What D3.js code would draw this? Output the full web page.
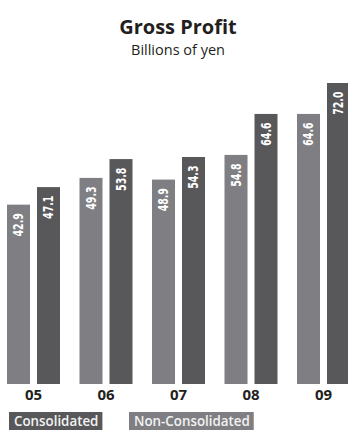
<!DOCTYPE html>
<html>
	<head>
		<title>gross_profit</title>
		<script type="text/javascript" src="https://cdn.jsdelivr.net/npm/d3@7"></script>
		<style>
			body{margin:0;background:#fff;}
		</style>
	</head>
	<body>
		<script type="text/javascript">
			var years=['05','06','07','08','09'];
			var nonConsolidated=[42.9,49.3,48.9,54.8,64.6];
			var consolidated=[47.1,53.8,54.3,64.6,72.0];
			var seriesNames=['Non-Consolidated','Consolidated'];
			var legendNames=['Consolidated','Non-Consolidated'];

			var w=348;
			var h=430;
			var colors={'Non-Consolidated':'#7f7f83','Consolidated':'#58585a'};

			var svg=d3.select('body').append('svg')
					  .attr('width',w)
					  .attr('height',h);

			var xScale=d3.scaleBand()
						 .domain(years)
						 .range([7,350])
						 .paddingInner(0.269);

			var xInner=d3.scaleBand()
						 .domain(seriesNames)
						 .range([0,xScale.bandwidth()])
						 .paddingInner(0.233);

			var yScale=d3.scaleLinear()
						 .domain([0,72])
						 .range([384,83]);

			var rows=years.map(function(y,i){
				return {year:y,values:[
					{name:'Non-Consolidated',value:nonConsolidated[i]},
					{name:'Consolidated',value:consolidated[i]}
				]};
			});

			// title
			svg.append('text')
			   .text('Gross Profit')
			   .attr('x',178)
			   .attr('y',34)
			   .attr('text-anchor','middle')
			   .attr('font-family','Open Sans, sans-serif')
			   .attr('font-weight','bold')
			   .attr('font-size','20px')
			   .attr('fill','#231f20');

			svg.append('text')
			   .text('Billions of yen')
			   .attr('x',178)
			   .attr('y',55)
			   .attr('text-anchor','middle')
			   .attr('font-family','Open Sans, sans-serif')
			   .attr('font-size','14.5px')
			   .attr('fill','#231f20');

			var groups=svg.selectAll('g.year')
						  .data(rows)
						  .enter()
						  .append('g')
						  .attr('class','year')
						  .attr('transform',function(d){
								return 'translate('+xScale(d.year)+',0)';
						  });

			groups.selectAll('rect')
				  .data(function(d){return d.values;})
				  .enter()
				  .append('rect')
				  .attr('x',function(d){return xInner(d.name);})
				  .attr('y',function(d){return yScale(d.value);})
				  .attr('width',xInner.bandwidth())
				  .attr('height',function(d){return yScale(0)-yScale(d.value);})
				  .attr('fill',function(d){return colors[d.name];});

			// value labels, squeezed to look like a condensed face
			groups.selectAll('text.val')
				  .data(function(d){return d.values;})
				  .enter()
				  .append('text')
				  .attr('class','val')
				  .text(function(d){return d.value.toFixed(1);})
				  .attr('transform',function(d){
						var cx=xInner(d.name)+xInner.bandwidth()/2;
						return 'translate('+cx+','+(yScale(d.value)+8.5)+') rotate(-90) scale(0.7,1)';
				  })
				  .attr('dy','0.36em')
				  .attr('text-anchor','end')
				  .attr('fill','#ffffff')
				  .attr('font-family','DejaVu Sans, sans-serif')
				  .attr('font-weight','bold')
				  .attr('font-size','13.5px');

			// x axis labels
			var xAxis=d3.axisBottom(xScale).tickSize(0).tickPadding(0);
			var axisG=svg.append('g')
						 .attr('transform','translate(0,389)')
						 .call(xAxis);
			axisG.select('.domain').remove();
			axisG.selectAll('text')
				 .attr('dy','0.75em')
				 .attr('font-family','Open Sans, sans-serif')
				 .attr('font-weight','bold')
				 .attr('font-size','15px')
				 .attr('fill','#231f20');

			// legend
			var legendX=[9,129];
			var legend=svg.selectAll('g.legend')
						  .data(legendNames)
						  .enter()
						  .append('g')
						  .attr('class','legend')
						  .attr('transform',function(d,i){
								return 'translate('+legendX[i]+',412)';
						  });
			legend.append('text')
				  .text(function(d){return d;})
				  .attr('transform','translate(5,14) scale(0.92,1)')
				  .attr('font-family','Open Sans, sans-serif')
				  .attr('font-weight','600')
				  .attr('font-size','14.5px')
				  .attr('fill','#f2f2f2')
				  .each(function(){
						var bb=this.getBBox();
						d3.select(this.parentNode).insert('rect','text')
						  .attr('x',0)
						  .attr('y',0)
						  .attr('width',bb.width*0.92+9)
						  .attr('height',18)
						  .attr('fill',colors[d3.select(this).datum()]);
				  });
		</script>
	</body>
</html>
